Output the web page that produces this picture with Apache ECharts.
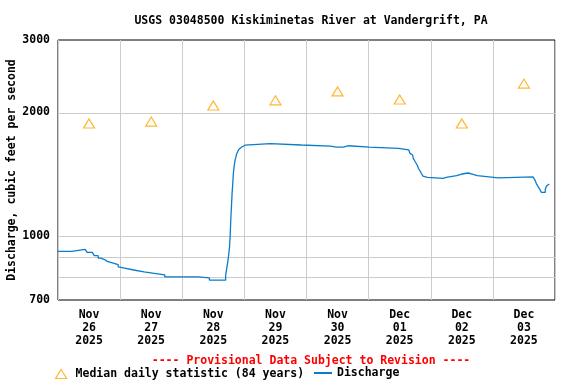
<!DOCTYPE html>
<html><head><meta charset="utf-8">
<script src="https://cdn.jsdelivr.net/npm/echarts@6/dist/echarts.min.js"></script>
<style>html,body{margin:0;padding:0;background:#fff}#c{width:576px;height:384px}</style>
</head><body><div id="c"></div>
<script>
// ---- data ----
const chartTitle = 'USGS 03048500 Kiskiminetas River at Vandergrift, PA';
const provisionalNote = '---- Provisional Data Subject to Revision ----';
const yAxisName = 'Discharge, cubic feet per second';
// x: hours since Nov 26 2025 00:00
const dayLabels = ['Nov\n26\n2025', 'Nov\n27\n2025', 'Nov\n28\n2025', 'Nov\n29\n2025', 'Nov\n30\n2025', 'Dec\n01\n2025', 'Dec\n02\n2025', 'Dec\n03\n2025'];
const dayLabelHours = [12, 36, 60, 84, 108, 132, 156, 180];
const medianHours = [12, 36, 60, 84, 108, 132, 156, 180];
const medianValues = [1880, 1900, 2080, 2140, 2250, 2150, 1880, 2350];
const dischargeHours = [0, 5.25, 10.5, 11.25, 13.25, 14, 15.5, 16.5, 18, 19,
  21, 23.25, 23.5, 25.75, 29.25, 33.25, 36.5, 41.25, 54, 58.5,
  64.75, 65.25, 65.75, 66.25, 66.5, 66.75, 67, 67.25, 67.5, 67.75,
  68, 68.25, 68.5, 68.75, 69, 69.5, 70, 70.5, 71, 71.5,
  72.25, 73, 82, 94, 105.25, 107.5, 108, 110.25, 112.25, 120.25,
  131.5, 135.5, 136, 136.5, 137, 137.25, 137.75, 138, 138.25, 138.75,
  139, 139.25, 139.75, 140, 140.5, 141, 141.75, 142.75, 148.75, 150,
  154, 156, 158.5, 160, 162, 166.5, 170, 183.5, 184.25, 184.75,
  185.5, 186.25, 186.75, 188.25, 188.75, 189.5, 189.75];
const dischargeValues = [919, 929, 922, 914, 905, 897, 885, 878, 869, 862,
  853, 843, 837, 828, 819, 814, 806, 797, 792, 782,
  802, 840, 880, 940, 1000, 1095, 1180, 1270, 1340, 1420,
  1470, 1510, 1540, 1560, 1585, 1610, 1630, 1648, 1658, 1665,
  1670, 1679, 1667, 1657, 1648, 1657, 1648, 1660, 1648, 1636,
  1621, 1606, 1590, 1576, 1560, 1547, 1530, 1518, 1505, 1490,
  1476, 1463, 1445, 1436, 1417, 1401, 1391, 1383, 1391, 1404,
  1417, 1425, 1417, 1404, 1394, 1386, 1394, 1386, 1370, 1345,
  1320, 1296, 1279, 1301, 1325, 1335, 1340];
const yTickValues = [700, 1000, 2000, 3000];
const yGridValues = [800, 900, 1000, 2000];
const yMin = 700, yMax = 3000;
const xMin = 0, xMax = 192, xStep = 24;

// ---- chart ----
const L = Math.log10;
const FONT = 'DejaVu Sans Mono';
const TXT = {fontFamily: FONT, fontWeight: 'bold', fontSize: 11.5, color: '#000'};
const chart = echarts.init(document.getElementById('c'), null, {renderer: 'canvas'});
chart.setOption({
  animation: false,
  backgroundColor: '#fff',
  title: [
    {text: chartTitle, left: 306, top: 10, textAlign: 'center', textStyle: TXT},
    {text: provisionalNote, left: 306, top: 350, textAlign: 'center',
     textStyle: Object.assign({}, TXT, {color: '#ff0000'})}
  ],
  legend: [
    {
      left: 55, top: 368, itemWidth: 11, itemHeight: 9, padding: 0,
      textStyle: Object.assign({}, TXT, {padding: [0, 0, 0, 4]}),
      itemStyle: {borderWidth: 1.2},
      data: ['Median daily statistic (84 years)']
    },
    {
      left: 313, top: 367, itemWidth: 18, itemHeight: 12, padding: 0,
      textStyle: TXT,
      data: [{name: 'Discharge', itemStyle: {opacity: 0, color: 'rgba(0,0,0,0)', borderColor: 'rgba(0,0,0,0)', borderWidth: 0}}]
    }
  ],
  grid: {left: 58, right: 21, top: 40, bottom: 84, show: true, borderColor: '#000', borderWidth: 1,
         backgroundColor: 'transparent', containLabel: false, outerBoundsMode: 'none'},
  xAxis: {
    type: 'value', min: xMin, max: xMax, interval: xStep,
    axisLine: {show: false}, axisTick: {show: false},
    splitLine: {show: true, lineStyle: {color: '#cccccc', width: 1}},
    axisLabel: {
      customValues: dayLabelHours,
      formatter: v => dayLabels[Math.round((v - dayLabelHours[0]) / xStep)],
      fontFamily: FONT, fontWeight: 'bold', fontSize: 11.5, color: '#000',
      lineHeight: 13, margin: 9, align: 'center'
    }
  },
  yAxis: {
    type: 'value', min: L(yMin), max: L(yMax),
    name: yAxisName, nameLocation: 'middle', nameGap: 40, nameRotate: 90, nameMoveOverlap: false,
    nameTextStyle: TXT,
    axisLine: {show: false}, axisTick: {show: false}, splitLine: {show: false},
    axisLabel: {
      customValues: yTickValues.map(L),
      formatter: v => String(Math.round(Math.pow(10, v))),
      fontFamily: FONT, fontWeight: 'bold', fontSize: 11.5, color: '#000', margin: 8
    }
  },
  series: [
    {
      name: 'Median daily statistic (84 years)', type: 'scatter',
      symbol: 'triangle', symbolSize: [11, 9], z: 3,
      itemStyle: {color: '#ffffff', borderColor: '#ffa500', borderWidth: 1.2},
      data: medianHours.map((h, i) => [h, L(medianValues[i])])
    },
    {
      name: 'Discharge', type: 'line', step: 'end', showSymbol: false, symbol: 'none', z: 2,
      lineStyle: {color: '#0a7ccc', width: 1.3}, itemStyle: {color: '#0a7ccc'},
      data: dischargeHours.map((h, i) => [h, L(dischargeValues[i])]),
      markLine: {
        silent: true, symbol: 'none', z: 1, animation: false,
        label: {show: false},
        lineStyle: {color: '#cccccc', width: 1, type: 'solid'},
        data: yGridValues.map(v => ({yAxis: L(v)}))
      }
    }
  ]
});
</script>
</body></html>
